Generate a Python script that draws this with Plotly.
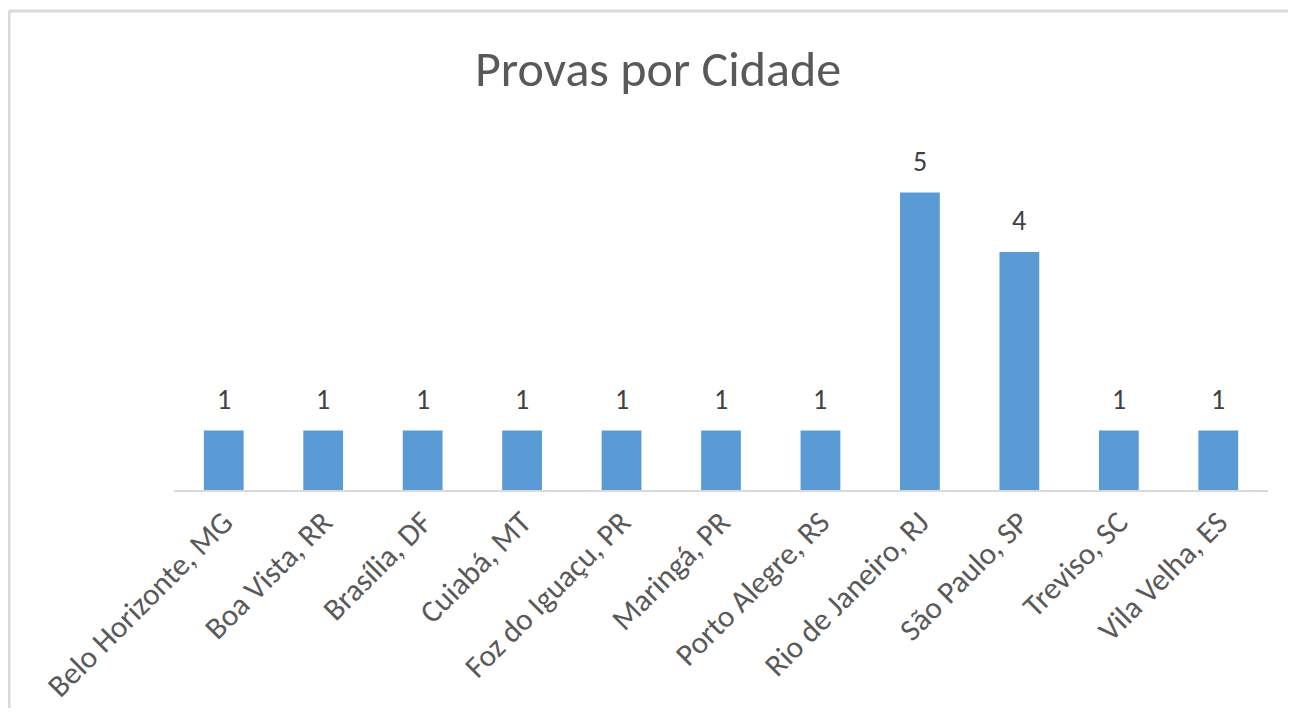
import plotly.graph_objects as go

cidades = ["Belo Horizonte, MG", "Boa Vista, RR", "Brasília, DF", "Cuiabá, MT",
           "Foz do Iguaçu, PR", "Maringá, PR", "Porto Alegre, RS",
           "Rio de Janeiro, RJ", "São Paulo, SP", "Treviso, SC", "Vila Velha, ES"]
provas = [1, 1, 1, 1, 1, 1, 1, 5, 4, 1, 1]

fonte = "Carlito, Calibri, Open Sans, sans-serif"

fig = go.Figure()
fig.add_trace(go.Bar(
    x=cidades,
    y=provas,
    width=0.4,
    marker=dict(color="#5B9BD5", line=dict(width=0)),
    hoverinfo="x+y",
))

# data labels above each bar
for c, v in zip(cidades, provas):
    fig.add_annotation(x=c, y=v, text=str(v), showarrow=False,
                       yanchor="bottom", yshift=12,
                       font=dict(size=28, color="#404040", family=fonte))

# light grey chart border, only left and top edges are visible in the screenshot
borda = dict(color="#D9D9D9", width=3)
fig.add_shape(type="line", xref="paper", yref="paper",
              x0=-0.1508, x1=-0.1508, y0=-1.0, y1=1.3417, line=borda, layer="below")
fig.add_shape(type="line", xref="paper", yref="paper",
              x0=-0.1508, x1=1.5, y0=1.3417, y1=1.3417, line=borda, layer="below")

# page body has an 8px margin; figure sized so the page doesn't scroll
fig.update_layout(
    title=dict(text="Provas por Cidade", x=650 / 1280, xref="container", xanchor="center",
               y=1 - 60 / 700, yref="container", yanchor="middle",
               font=dict(size=50, color="#595959", family=fonte)),
    width=1280, height=700,
    margin=dict(l=166, r=20, t=125, b=218, autoexpand=False),
    plot_bgcolor="white",
    paper_bgcolor="white",
    showlegend=False,
    xaxis=dict(tickangle=-45, showline=True, linecolor="#D9D9D9", linewidth=1.5,
               ticks="", tickfont=dict(size=31, color="#595959", family=fonte),
               showgrid=False),
    yaxis=dict(range=[0, 6], visible=False, showgrid=False, zeroline=False),
)

fig.write_html("out.html")
